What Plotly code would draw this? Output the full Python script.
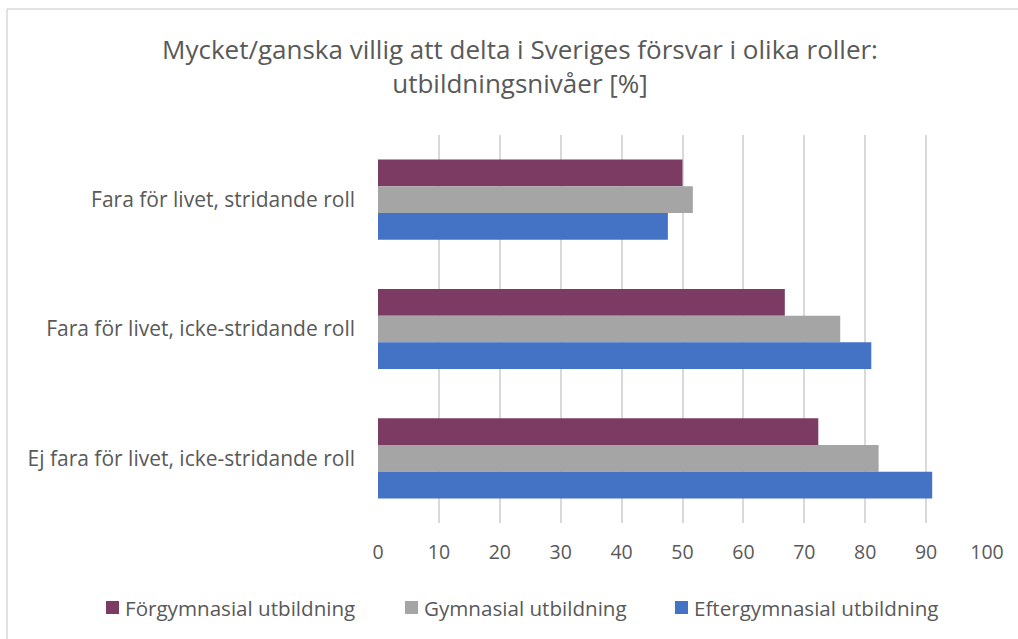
import plotly.graph_objects as go

categories = [
    "Fara för livet, stridande roll",
    "Fara för livet, icke-stridande roll",
    "Ej fara för livet, icke-stridande roll",
]
series_names = ["Förgymnasial utbildning", "Gymnasial utbildning", "Eftergymnasial utbildning"]
forgymnasial = [50.0, 66.8, 72.3]
gymnasial = [51.7, 75.9, 82.2]
eftergymnasial = [47.6, 81.0, 91.0]
colors = ["#7B3B63", "#A5A5A5", "#4472C4"]
x_ticks = [0, 10, 20, 30, 40, 50, 60, 70, 80, 90, 100]

W, H = 1018, 639
ml, mr, mt, mb = 378, 31, 135, 116
pw, ph = W - ml - mr, H - mt - mb


def px_x(x):
    return (x - ml) / pw


def px_y(y):
    return (H - mb - y) / ph


fig = go.Figure()
for name, vals, col in zip(series_names, [forgymnasial, gymnasial, eftergymnasial], colors):
    fig.add_trace(go.Bar(
        y=categories, x=vals, name=name, orientation="h",
        marker=dict(color=col, line=dict(width=0)), showlegend=False,
    ))

font_fam = "'Open Sans', Lato, sans-serif"
txt_col = "#595959"

# manual legend (marker square + label) at the bottom
legend_marker_x = [106, 405, 675]
shapes = []
annotations = []
for name, col, mx in zip(series_names, colors, legend_marker_x):
    shapes.append(dict(type="rect", xref="paper", yref="paper",
                       x0=px_x(mx), x1=px_x(mx + 13), y0=px_y(614), y1=px_y(601),
                       fillcolor=col, line=dict(width=0)))
    annotations.append(dict(text=name, xref="paper", yref="paper",
                            x=px_x(mx + 17), y=px_y(607.5), xanchor="left", yanchor="middle",
                            showarrow=False, font=dict(size=20.6, color=txt_col, family=font_fam)))

shapes += [
    dict(type="line", xref="paper", yref="paper",
         x0=px_x(7), x1=px_x(W), y0=px_y(9), y1=px_y(9),
         line=dict(color="#D9D9D9", width=1.5), layer="below"),
    dict(type="line", xref="paper", yref="paper",
         x0=px_x(7), x1=px_x(7), y0=px_y(H), y1=px_y(9),
         line=dict(color="#D9D9D9", width=1.5), layer="below"),
]

fig.update_layout(
    width=W, height=H,
    margin=dict(l=ml, r=mr, t=mt, b=mb, pad=0),
    paper_bgcolor="white", plot_bgcolor="white",
    barmode="group", bargap=0.38, bargroupgap=0,
    font=dict(family=font_fam, color=txt_col, size=20),
    showlegend=False,
    title=dict(
        text="Mycket/ganska villig att delta i Sveriges försvar i olika roller:<br>utbildningsnivåer [%]",
        x=520 / W, xref="container", xanchor="center",
        y=1 - 59 / H, yref="container", yanchor="middle",
        font=dict(size=26, color=txt_col, family=font_fam),
    ),
    xaxis=dict(
        range=[0, 100], tickvals=x_ticks, showgrid=True, gridcolor="#D9D9D9", gridwidth=1.5,
        zeroline=False, showline=False, ticks="", ticklabelstandoff=15,
        tickfont=dict(size=19.5, color=txt_col),
    ),
    yaxis=dict(
        autorange="reversed", showgrid=False, zeroline=False, showline=False, ticks="",
        ticklabelstandoff=22, tickfont=dict(size=21, color=txt_col),
    ),
    shapes=shapes,
    annotations=annotations,
)

fig.write_html("out.html", config={"displayModeBar": False},
               post_script="document.body.style.margin='0';")
